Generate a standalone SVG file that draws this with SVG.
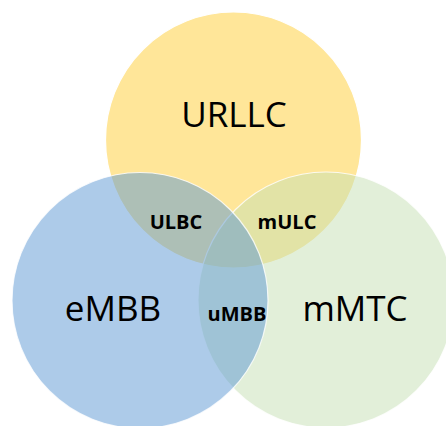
<svg xmlns="http://www.w3.org/2000/svg" width="446" height="426" viewBox="0 0 446 426">
<style>
.c{stroke:#fff;stroke-width:1.2}
.big{font-family:"Open Sans","Noto Sans",sans-serif;font-size:35px;fill:#000;text-anchor:middle}
.sm{font-family:"Open Sans","Noto Sans",sans-serif;font-size:20px;font-weight:bold;fill:#000;text-anchor:middle}
</style>
<rect width="446" height="426" fill="#fff"/>
<g id="urllc">
<circle class="c" cx="233.5" cy="140" r="128" fill="#FFE699"/>
</g>
<g id="mmtc">
<circle class="c" cx="326" cy="300" r="128" fill="#C5DFB3" fill-opacity="0.5" stroke-opacity="0.8"/>
</g>
<g id="embb">
<circle class="c" cx="140" cy="300.5" r="128" fill="#5B97D3" fill-opacity="0.5" stroke-opacity="0.8"/>
</g>
<g id="labels">
<text class="big" x="234" y="127">URLLC</text>
<text class="big" x="113" y="321">eMBB</text>
<text class="big" x="355" y="321">mMTC</text>
</g>
<g id="ulbc"><text class="sm" x="176" y="229">ULBC</text></g>
<g id="mulc"><text class="sm" x="287" y="229">mULC</text></g>
<g id="umbb"><text class="sm" x="237" y="321">uMBB</text></g>
</svg>
